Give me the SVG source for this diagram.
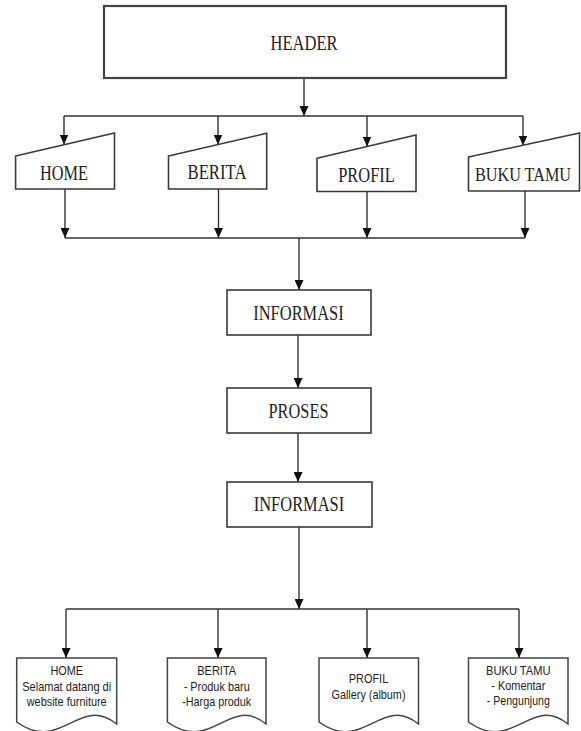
<svg xmlns="http://www.w3.org/2000/svg" width="581" height="731" viewBox="0 0 581 731">
  <style>
    .box { fill: #ffffff; stroke: #3a3a3a; stroke-width: 1.6; }
    .hdr { fill: #ffffff; stroke: #444444; stroke-width: 2.2; }
    .doc { fill: #ffffff; stroke: #444444; stroke-width: 1.5; }
    .ln { fill: none; stroke: #333333; stroke-width: 1.4; }
    .arr { marker-end: url(#ah); }
    .t { font-family: "Liberation Serif", "Times New Roman", serif; font-size: 20px; fill: #222222; text-anchor: middle; }
    .s { font-family: "Liberation Sans", Arial, sans-serif; font-size: 13px; fill: #222222; text-anchor: middle; }
  </style>
  <defs>
    <marker id="ah" markerWidth="10" markerHeight="9" refX="10" refY="4.5" orient="auto" markerUnits="userSpaceOnUse">
      <path d="M0,0 L10,4.5 L0,9 Z" fill="#111111"/>
    </marker>
  </defs>

  <rect width="581" height="731" fill="#ffffff"/>

  <!-- connectors -->
  <g id="connectors">
    <path class="ln arr" d="M304,78 V116"/>
    <path class="ln" d="M64,116 H523"/>
    <path class="ln arr" d="M64,116 V144.5"/>
    <path class="ln arr" d="M218,116 V144.5"/>
    <path class="ln arr" d="M367,116 V146.5"/>
    <path class="ln arr" d="M523,116 V145.5"/>

    <path class="ln arr" d="M65,189 V238"/>
    <path class="ln arr" d="M218.5,189 V238"/>
    <path class="ln arr" d="M367,191.5 V238"/>
    <path class="ln arr" d="M525,191 V238"/>
    <path class="ln" d="M65,238 H525"/>
    <path class="ln arr" d="M299,238 V290"/>

    <path class="ln arr" d="M298,335 V388"/>
    <path class="ln arr" d="M298,433 V482"/>
    <path class="ln arr" d="M299,527 V609"/>

    <path class="ln" d="M66,609 H519"/>
    <path class="ln arr" d="M66,609 V658"/>
    <path class="ln arr" d="M218,609 V658"/>
    <path class="ln arr" d="M367,609 V658"/>
    <path class="ln arr" d="M519,609 V658"/>
  </g>

  <!-- header -->
  <g id="header">
    <rect class="hdr" x="104" y="6" width="402" height="72"/>
    <text class="t" x="304" y="49.5" textLength="67" lengthAdjust="spacingAndGlyphs">HEADER</text>
  </g>

  <!-- menu inputs -->
  <g id="in-home">
    <polygon class="box" points="15.6,156 114.5,133 114.5,189 15.6,189"/>
    <text class="t" x="64" y="179.5" textLength="48" lengthAdjust="spacingAndGlyphs">HOME</text>
  </g>
  <g id="in-berita">
    <polygon class="box" points="168.5,156 266.7,133.3 266.7,189 168.5,189"/>
    <text class="t" x="217" y="179" textLength="59" lengthAdjust="spacingAndGlyphs">BERITA</text>
  </g>
  <g id="in-profil">
    <polygon class="box" points="317,158.3 416,135 416,191.5 317,191.5"/>
    <text class="t" x="366.5" y="182" textLength="56.5" lengthAdjust="spacingAndGlyphs">PROFIL</text>
  </g>
  <g id="in-bukutamu">
    <polygon class="box" points="468.5,157 579.5,133 579.5,191 468.5,191"/>
    <text class="t" x="523" y="180.5" style="font-size:18.6px" textLength="96" lengthAdjust="spacingAndGlyphs">BUKU TAMU</text>
  </g>

  <!-- process chain -->
  <g id="informasi-1">
    <rect class="box" x="227" y="290" width="144" height="45"/>
    <text class="t" x="298.5" y="319.5" textLength="90.5" lengthAdjust="spacingAndGlyphs">INFORMASI</text>
  </g>
  <g id="proses">
    <rect class="box" x="227" y="388" width="144" height="45"/>
    <text class="t" x="298.5" y="417.5" textLength="60" lengthAdjust="spacingAndGlyphs">PROSES</text>
  </g>
  <g id="informasi-2">
    <rect class="box" x="227" y="482" width="145" height="45"/>
    <text class="t" x="299" y="511" textLength="90.5" lengthAdjust="spacingAndGlyphs">INFORMASI</text>
  </g>

  <!-- output documents: wavy bottom edge -->
  <g id="out-home">
    <path class="doc" d="M16.7,658 H116.7 V724 C78.7,694 61.7,754 16.7,722 Z"/>
    <text class="s" x="66.7" y="675" textLength="32.6" lengthAdjust="spacingAndGlyphs">HOME</text>
    <text class="s" x="66.7" y="691" textLength="89" lengthAdjust="spacingAndGlyphs">Selamat datang di</text>
    <text class="s" x="66.7" y="706" textLength="80" lengthAdjust="spacingAndGlyphs">website furniture</text>
  </g>
  <g id="out-berita">
    <path class="doc" d="M167.4,658 H266 V724 C229.4,694 212.4,754 167.4,722 Z"/>
    <text class="s" x="216.7" y="675" textLength="39" lengthAdjust="spacingAndGlyphs">BERITA</text>
    <text class="s" x="216.7" y="691" textLength="66" lengthAdjust="spacingAndGlyphs">- Produk baru</text>
    <text class="s" x="216.7" y="706" textLength="69" lengthAdjust="spacingAndGlyphs">-Harga produk</text>
  </g>
  <g id="out-profil">
    <path class="doc" d="M319,658 H418.5 V724 C381,694 364,754 319,722 Z"/>
    <text class="s" x="368.5" y="683" textLength="39.5" lengthAdjust="spacingAndGlyphs">PROFIL</text>
    <text class="s" x="368.5" y="699" textLength="74" lengthAdjust="spacingAndGlyphs">Gallery (album)</text>
  </g>
  <g id="out-bukutamu">
    <path class="doc" d="M468.5,658 H568 V724 C530.5,694 513.5,754 468.5,722 Z"/>
    <text class="s" x="518.3" y="675" textLength="64.5" lengthAdjust="spacingAndGlyphs">BUKU TAMU</text>
    <text class="s" x="518.3" y="690" textLength="54" lengthAdjust="spacingAndGlyphs">- Komentar</text>
    <text class="s" x="518.3" y="705" textLength="63" lengthAdjust="spacingAndGlyphs">- Pengunjung</text>
  </g>
</svg>
